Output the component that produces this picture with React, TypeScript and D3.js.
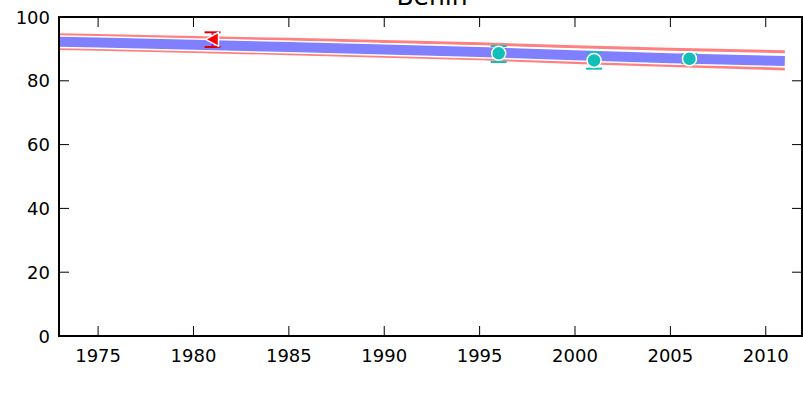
import React from "react";
import * as d3 from "d3";

const title = "Benin";
const lineYears = [1970, 1975, 1980, 1985, 1990, 1995, 2000, 2005, 2011];
const trendValues = [92.6, 92.0, 91.3, 90.6, 89.8, 89.0, 88.0, 87.1, 86.2];
const upperValues = [94.7, 94.2, 93.6, 93.0, 92.3, 91.6, 90.7, 89.9, 89.1];
const lowerValues = [90.5, 89.9, 89.2, 88.5, 87.7, 86.9, 85.7, 84.8, 83.7];

const triYears = [1981];
const triValues = [93.0];
const triLow = [90.6];
const triHigh = [95.2];

const dotYears = [1996, 2001, 2006];
const dotValues = [88.6, 86.4, 86.9];
const dotLow = [85.9, 83.8, 85.5];
const dotHigh = [90.9, 88.9, 88.3];

const xTicks = [1975, 1980, 1985, 1990, 1995, 2000, 2005, 2010];
const yTicks = [0, 20, 40, 60, 80, 100];

const W = 803, H = 393;
const L = 59, R = 802, T = 17, B = 336;

export default function App() {
  const x = d3.scaleLinear().domain([1972.95, 2011.9]).range([L, R]);
  const y = d3.scaleLinear().domain([0, 100]).range([B, T]);
  const mk = (vals: number[]) =>
    d3.line<number>().x((_, i) => x(lineYears[i])).y((v) => y(v))(vals) || "";
  const font = "DejaVu Sans, sans-serif";
  const tri = (cx: number, cy: number, s: number) =>
    `M${cx - s},${cy} L${cx + s * 0.85},${cy - s} L${cx + s * 0.85},${cy + s} Z`;
  return (
    <svg width={W} height={H} style={{ position: "absolute", left: 0, top: 0 }}>
      <defs>
        <clipPath id="plot">
          <rect x={L} y={T} width={R - L} height={B - T} />
        </clipPath>
      </defs>
      <rect x={0} y={0} width={W} height={H} fill="#fff" />
      <g clipPath="url(#plot)">
        {[upperValues, lowerValues].map((v, i) => (
          <g key={i}>
            <path d={mk(v)} fill="none" stroke="#fff" strokeWidth={5} />
            <path d={mk(v)} fill="none" stroke="#ff8080" strokeWidth={3} />
          </g>
        ))}
        <path d={mk(trendValues)} fill="none" stroke="#fff" strokeWidth={13} />
        <path d={mk(trendValues)} fill="none" stroke="#8080ff" strokeWidth={10} />
      </g>
      {triYears.map((yr, i) => (
        <g key={"t" + i}>
          <line x1={x(yr)} x2={x(yr)} y1={y(triLow[i])} y2={y(triHigh[i])} stroke="#b000c0" strokeWidth={2} />
          <line x1={x(yr) - 8} x2={x(yr) + 8} y1={y(triLow[i])} y2={y(triLow[i])} stroke="#e00000" strokeWidth={2} />
          <line x1={x(yr) - 8} x2={x(yr) + 8} y1={y(triHigh[i])} y2={y(triHigh[i])} stroke="#e00000" strokeWidth={2} />
          <path d={tri(x(yr), y(triValues[i]), 7)} fill="#ff0000" stroke="#fff" strokeWidth={1.5} />
        </g>
      ))}
      {dotYears.map((yr, i) => (
        <g key={"d" + i}>
          <line x1={x(yr)} x2={x(yr)} y1={y(dotLow[i])} y2={y(dotHigh[i])} stroke="#10c0b8" strokeWidth={2} />
          <line x1={x(yr) - 8} x2={x(yr) + 8} y1={y(dotLow[i])} y2={y(dotLow[i])} stroke="#10c0b8" strokeWidth={2} />
          <line x1={x(yr) - 8} x2={x(yr) + 8} y1={y(dotHigh[i])} y2={y(dotHigh[i])} stroke="#10c0b8" strokeWidth={2} />
          <circle cx={x(yr)} cy={y(dotValues[i])} r={7} fill="#10c0b8" stroke="#fff" strokeWidth={1.5} />
        </g>
      ))}
      {xTicks.map((t) => (
        <g key={"x" + t}>
          <line x1={x(t)} x2={x(t)} y1={B} y2={B - 10} stroke="#000" strokeWidth={1} />
          <line x1={x(t)} x2={x(t)} y1={T} y2={T + 10} stroke="#000" strokeWidth={1} />
          <text x={x(t)} y={362} textAnchor="middle" fontFamily={font} fontSize={18}>{t}</text>
        </g>
      ))}
      {yTicks.map((t) => (
        <g key={"y" + t}>
          <line x1={L} x2={L + 10} y1={y(t)} y2={y(t)} stroke="#000" strokeWidth={1} />
          <line x1={R} x2={R - 10} y1={y(t)} y2={y(t)} stroke="#000" strokeWidth={1} />
          <text x={L - 9} y={y(t) + 6.5} textAnchor="end" fontFamily={font} fontSize={18}>{t}</text>
        </g>
      ))}
      <rect x={L} y={T} width={R - L} height={B - T} fill="none" stroke="#000" strokeWidth={2} />
      <text x={432} y={5} textAnchor="middle" fontFamily={font} fontSize={25}>{title}</text>
    </svg>
  );
}
